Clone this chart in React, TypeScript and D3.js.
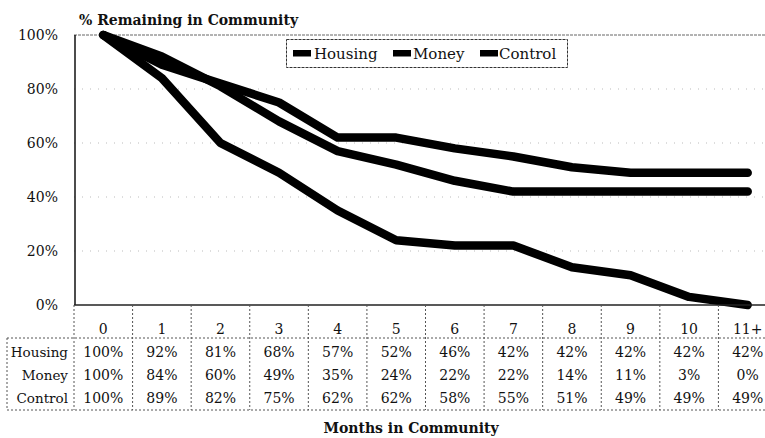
import React from "react";
import * as d3 from "d3";

const categories = ["0", "1", "2", "3", "4", "5", "6", "7", "8", "9", "10", "11+"];
const housing = [100, 92, 81, 68, 57, 52, 46, 42, 42, 42, 42, 42];
const money = [100, 84, 60, 49, 35, 24, 22, 22, 14, 11, 3, 0];
const control = [100, 89, 82, 75, 62, 62, 58, 55, 51, 49, 49, 49];
const yTicks = [0, 20, 40, 60, 80, 100];

const seriesList = [
  { name: "Housing", values: housing },
  { name: "Money", values: money },
  { name: "Control", values: control },
];

const FONT = "DejaVu Serif, serif";

export default function App() {
  const W = 765;
  const H = 438;
  const left = 74;
  const right = 777;
  const top = 35;
  const bottom = 305;

  const x = d3.scaleBand<string>().domain(categories).range([left, right]).paddingInner(0).paddingOuter(0);
  const y = d3.scaleLinear().domain([0, 100]).range([bottom, top]);
  const cx = (c: string) => (x(c) as number) + x.bandwidth() / 2;

  const line = d3
    .line<number>()
    .x((_, i) => cx(categories[i]))
    .y((d) => y(d));

  const headerBottom = 338;
  const tableBottom = 410;
  const rowBaselines = [357, 380, 403];
  const tableLine = { stroke: "#555", strokeWidth: 1, strokeDasharray: "2,2" };
  const ts = { fontFamily: FONT };

  const legendItems = [
    { name: "Housing", mx: 293, tx: 314 },
    { name: "Money", mx: 393, tx: 413 },
    { name: "Control", mx: 480, tx: 499 },
  ];

  return (
    <svg
      width={W}
      height={H}
      style={{ position: "absolute", left: 0, top: 0, background: "#fff", fontFamily: FONT }}
    >
      <rect x={0} y={0} width={W} height={H} fill="#fff" />
      <text x={79} y={25} fontSize={14} fontWeight="bold" fill="#111" style={ts}>
        % Remaining in Community
      </text>

      {yTicks
        .filter((t) => t > 0 && t < 100)
        .map((t) => (
          <line key={t} x1={left} x2={right} y1={y(t)} y2={y(t)} stroke="#bbb" strokeWidth={1} strokeDasharray="1,7" />
        ))}
      <line x1={left} x2={right} y1={top} y2={top} stroke="#666" strokeWidth={1} strokeDasharray="3,1" />

      {yTicks.map((t) => (
        <text key={t} x={58} y={y(t) + 5} textAnchor="end" fontSize={14} fill="#111" style={ts}>
          {t}%
        </text>
      ))}

      {seriesList.map((s) => (
        <path
          key={s.name}
          d={line(s.values) || ""}
          fill="none"
          stroke="#000"
          strokeWidth={8.5}
          strokeLinecap="round"
          strokeLinejoin="round"
        />
      ))}

      <line x1={left + 1} x2={left + 1} y1={top} y2={bottom} stroke="#111" strokeWidth={1.5} />
      <line x1={left} x2={right} y1={bottom} y2={bottom} stroke="#222" strokeWidth={1.5} />

      <rect x={286.5} y={39.5} width={281} height={28} fill="#fff" stroke="#333" strokeWidth={1} strokeDasharray="3,1" />
      {legendItems.map((it) => (
        <g key={it.name}>
          <rect x={it.mx} y={50} width={18} height={6.5} fill="#000" />
          <text x={it.tx} y={58.5} fontSize={15} fill="#111" style={ts}>
            {it.name}
          </text>
        </g>
      ))}

      {categories.map((c) => (
        <line key={"v" + c} x1={x(c) as number} x2={x(c) as number} y1={bottom} y2={tableBottom} {...tableLine} />
      ))}
      <line x1={right} x2={right} y1={bottom} y2={tableBottom} {...tableLine} />
      <line x1={7} x2={7} y1={headerBottom} y2={tableBottom} {...tableLine} />
      <line x1={7} x2={right} y1={headerBottom} y2={headerBottom} {...tableLine} />
      <line x1={7} x2={right} y1={tableBottom} y2={tableBottom} {...tableLine} />

      {categories.map((c) => (
        <text key={"h" + c} x={cx(c)} y={334} textAnchor="middle" fontSize={14} fill="#111" style={ts}>
          {c}
        </text>
      ))}
      {seriesList.map((s, r) => (
        <g key={"row" + s.name}>
          <text x={68} y={rowBaselines[r]} textAnchor="end" fontSize={13.5} fill="#111" style={ts}>
            {s.name}
          </text>
          {s.values.map((v, i) => (
            <text key={i} x={cx(categories[i])} y={rowBaselines[r]} textAnchor="middle" fontSize={14} fill="#111" style={ts}>
              {v}%
            </text>
          ))}
        </g>
      ))}

      <text x={411} y={433} textAnchor="middle" fontSize={14} fontWeight="bold" fill="#111" style={ts}>
        Months in Community
      </text>
    </svg>
  );
}
